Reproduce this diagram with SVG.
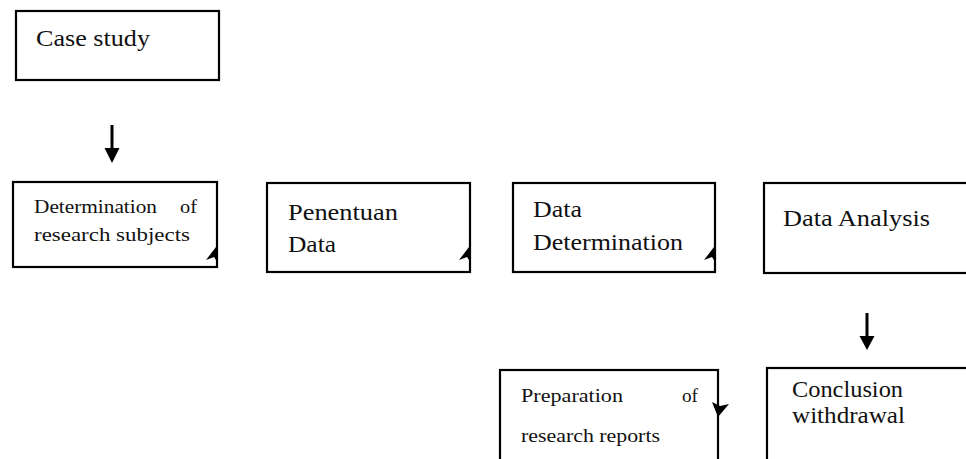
<svg xmlns="http://www.w3.org/2000/svg" width="966" height="459" viewBox="0 0 966 459">
<style>
.box{fill:#fff;stroke:#000;stroke-width:2.2}
.t{font-family:"Liberation Serif","DejaVu Serif",serif;fill:#111}
.l{font-size:24px}
.s{font-size:19.5px}
.ln{stroke:#000;stroke-width:3;fill:none}
</style>
<defs>
<path id="cornerUp" d="M0,0 L-2,-16 L-12,-3 L-4,-6 Z" fill="#000"/>
</defs>
<rect width="966" height="459" fill="#fff"/>
<g id="connectors">
<line class="ln" x1="112" y1="125" x2="112" y2="152"/>
<polygon points="104.5,148 119.5,148 112,163" fill="#000"/>
<line class="ln" x1="867" y1="313" x2="867" y2="339"/>
<polygon points="859.5,336 874.5,336 867,350" fill="#000"/>
</g>
<g id="case-study">
<rect class="box" x="16" y="11" width="203" height="69"/>
<text class="t l" x="36" y="46" textLength="114" lengthAdjust="spacingAndGlyphs">Case study</text>
</g>
<g id="determination-subjects">
<rect class="box" x="13" y="182" width="204" height="85"/>
<text class="t s" x="34" y="213" textLength="123" lengthAdjust="spacingAndGlyphs">Determination</text>
<text class="t s" x="180" y="213" textLength="17" lengthAdjust="spacingAndGlyphs">of</text>
<text class="t s" x="34" y="241" textLength="156" lengthAdjust="spacingAndGlyphs">research subjects</text>
<use href="#cornerUp" x="218" y="263"/>
</g>
<g id="penentuan-data">
<rect class="box" x="267" y="183" width="203" height="89"/>
<text class="t l" x="288" y="220" textLength="110" lengthAdjust="spacingAndGlyphs">Penentuan</text>
<text class="t l" x="288" y="252" textLength="48" lengthAdjust="spacingAndGlyphs">Data</text>
<use href="#cornerUp" x="471" y="263"/>
</g>
<g id="data-determination">
<rect class="box" x="513" y="183" width="202" height="89"/>
<text class="t l" x="533" y="217" textLength="49" lengthAdjust="spacingAndGlyphs">Data</text>
<text class="t l" x="533" y="250" textLength="150" lengthAdjust="spacingAndGlyphs">Determination</text>
<use href="#cornerUp" x="716" y="263"/>
</g>
<g id="data-analysis">
<rect class="box" x="764" y="183" width="220" height="90"/>
<text class="t l" x="783" y="226" textLength="147" lengthAdjust="spacingAndGlyphs">Data Analysis</text>
</g>
<g id="conclusion-withdrawal">
<rect class="box" x="767" y="368" width="220" height="110"/>
<text class="t l" x="792" y="397" textLength="111" lengthAdjust="spacingAndGlyphs">Conclusion</text>
<text class="t l" x="792" y="423" textLength="113" lengthAdjust="spacingAndGlyphs">withdrawal</text>
</g>
<g id="preparation-reports">
<rect class="box" x="500" y="370" width="218" height="110"/>
<text class="t s" x="521" y="402" textLength="102" lengthAdjust="spacingAndGlyphs">Preparation</text>
<text class="t s" x="682" y="402" textLength="16" lengthAdjust="spacingAndGlyphs">of</text>
<text class="t s" x="521" y="442" textLength="139" lengthAdjust="spacingAndGlyphs">research reports</text>
<polygon points="718,417 712,402 720,406 729,404" fill="#000"/>
</g>
</svg>
